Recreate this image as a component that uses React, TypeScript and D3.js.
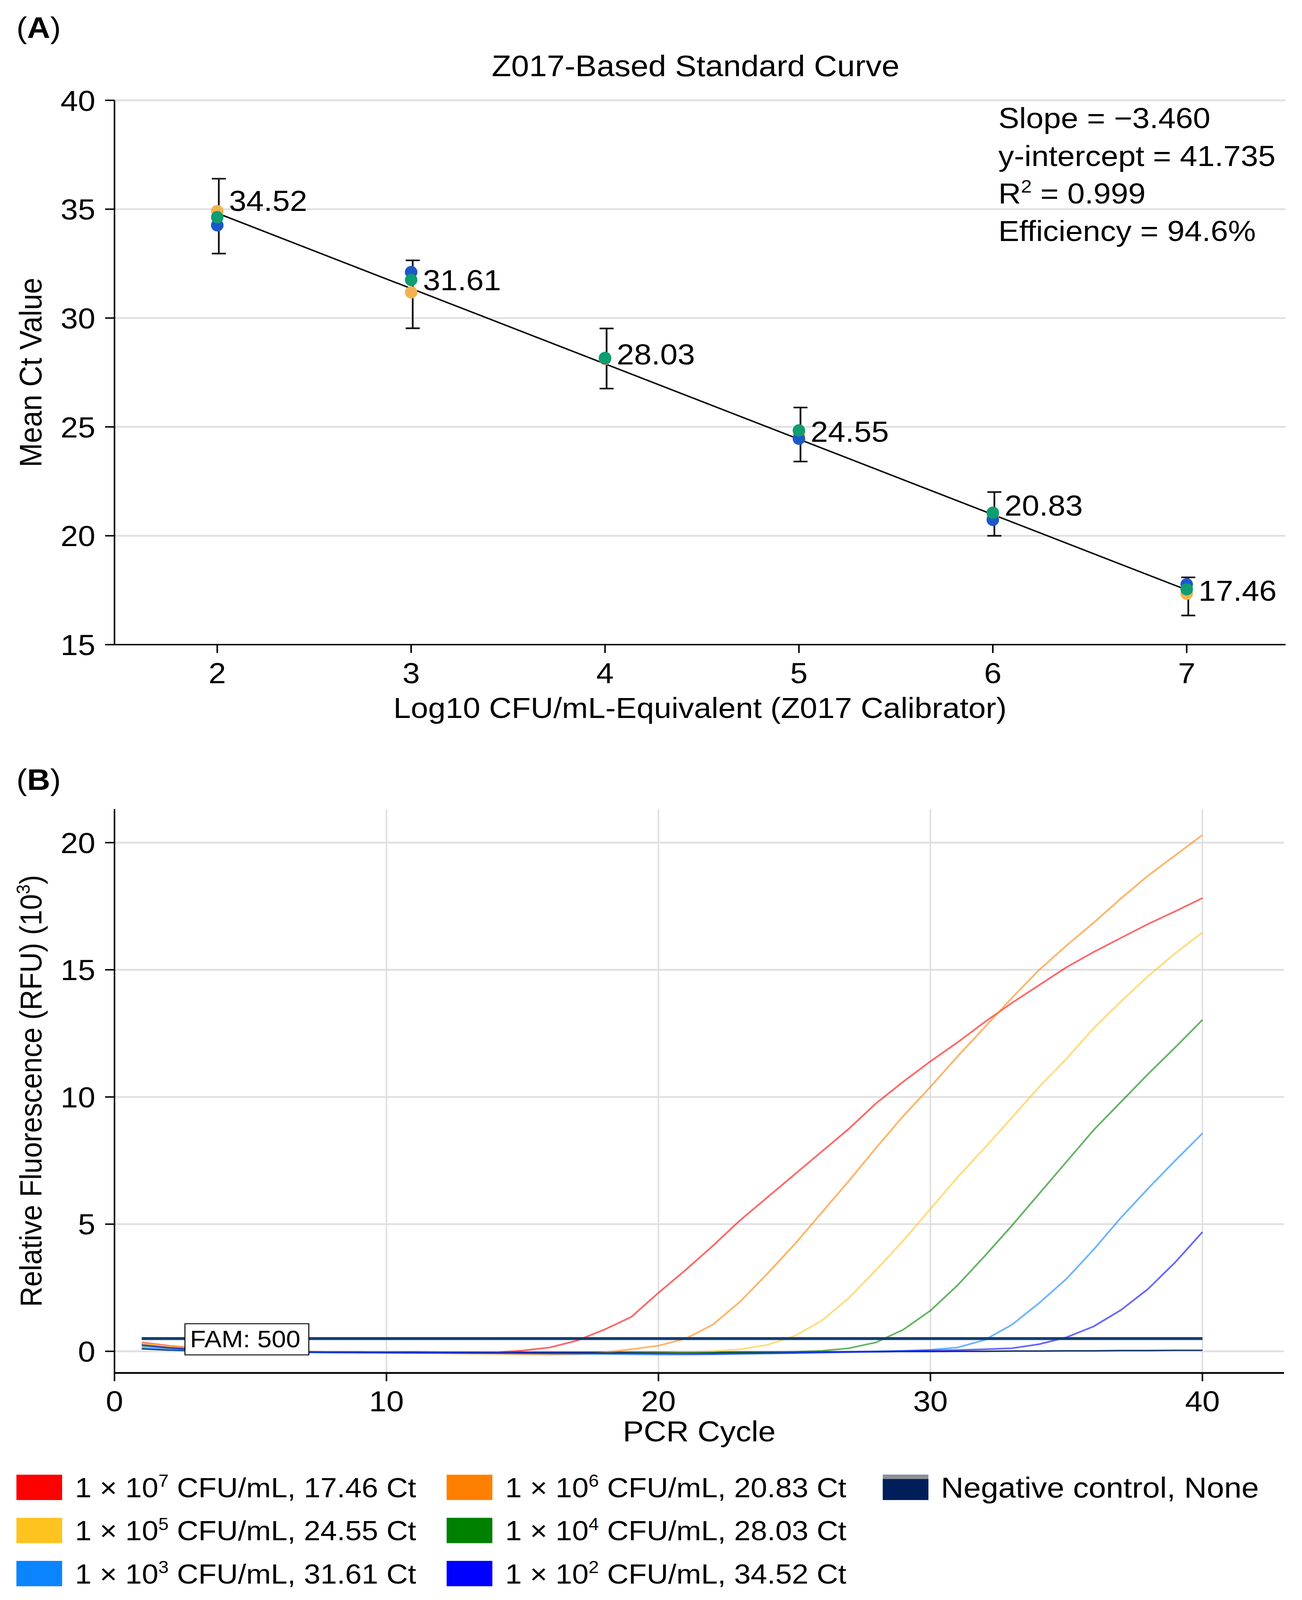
import React, { useEffect } from 'react';
import * as d3 from 'd3';

const FONT = '"Liberation Sans", Arial, Helvetica, sans-serif';

// ---- Panel A: standard curve ----
const LOG_CFU = [2, 3, 4, 5, 6, 7];
const MEAN_CT = [34.52, 31.61, 28.03, 24.55, 20.83, 17.46];
const REP_ORANGE = [34.91, 31.18, 28.12, 24.65, 20.86, 17.34];
const REP_BLUE = [34.26, 32.11, 28.15, 24.46, 20.73, 17.77];
const REP_GREEN = [34.63, 31.75, 28.17, 24.84, 21.06, 17.54];
const ERR_HIGH = [36.4, 32.65, 29.52, 25.89, 22.01, 18.09];
const ERR_LOW = [32.96, 29.53, 26.76, 23.41, 20.0, 16.34];
// manual label nudges (Ct units) as placed in the original figure
const LABEL_NUDGE = [0.88, 0.14, 0.32, 0.25, 0.58, 0.04];
const SLOPE = -3.46;
const INTERCEPT = 41.735;
const A_X_TICKS = [2, 3, 4, 5, 6, 7];
const A_Y_TICKS = [15, 20, 25, 30, 35, 40];

// ---- Panel B: amplification curves (RFU x 10^3, cycles 1..40) ----
const CYCLES = d3.range(1, 41);
const RFU_E7 = [0.35, 0.22, 0.12, 0.06, 0.02, 0.0, -0.02, -0.03, -0.04, -0.05, -0.05, -0.06, -0.06, -0.05, 0.03, 0.15, 0.42, 0.85, 1.35, 2.3, 3.2, 4.15, 5.15, 6.05, 6.95, 7.85, 8.75, 9.75, 10.6, 11.4, 12.15, 12.95, 13.7, 14.4, 15.1, 15.7, 16.25, 16.8, 17.3, 17.82];
const RFU_E6 = [0.28, 0.16, 0.08, 0.03, 0.0, -0.02, -0.04, -0.05, -0.06, -0.06, -0.07, -0.08, -0.09, -0.1, -0.12, -0.13, -0.12, -0.05, 0.08, 0.22, 0.5, 1.05, 1.95, 3.05, 4.2, 5.45, 6.7, 8.0, 9.25, 10.4, 11.6, 12.75, 13.9, 15.0, 15.95, 16.85, 17.8, 18.7, 19.5, 20.3];
const RFU_E5 = [0.32, 0.2, 0.1, 0.04, 0.0, -0.02, -0.03, -0.04, -0.05, -0.05, -0.06, -0.06, -0.07, -0.07, -0.08, -0.08, -0.08, -0.08, -0.07, -0.06, -0.04, 0.0, 0.08, 0.25, 0.6, 1.2, 2.1, 3.2, 4.35, 5.6, 6.85, 8.0, 9.2, 10.4, 11.5, 12.7, 13.75, 14.75, 15.65, 16.47];
const RFU_E4 = [0.22, 0.13, 0.06, 0.02, 0.0, -0.02, -0.03, -0.04, -0.05, -0.05, -0.06, -0.06, -0.06, -0.07, -0.07, -0.07, -0.07, -0.07, -0.07, -0.07, -0.06, -0.06, -0.05, -0.04, -0.02, 0.02, 0.12, 0.35, 0.85, 1.6, 2.6, 3.75, 4.95, 6.2, 7.45, 8.7, 9.8, 10.9, 11.95, 13.03];
const RFU_E3 = [0.15, 0.08, 0.03, 0.0, -0.02, -0.03, -0.04, -0.05, -0.05, -0.06, -0.06, -0.06, -0.07, -0.07, -0.08, -0.09, -0.1, -0.11, -0.12, -0.13, -0.13, -0.12, -0.1, -0.08, -0.06, -0.04, -0.02, 0.0, 0.02, 0.06, 0.15, 0.45, 1.05, 1.9, 2.85, 4.0, 5.25, 6.4, 7.5, 8.57];
const RFU_E2 = [0.25, 0.14, 0.07, 0.03, 0.0, -0.02, -0.03, -0.04, -0.04, -0.05, -0.05, -0.05, -0.06, -0.06, -0.06, -0.07, -0.07, -0.08, -0.08, -0.09, -0.1, -0.1, -0.09, -0.08, -0.07, -0.05, -0.03, -0.01, 0.01, 0.03, 0.05, 0.08, 0.12, 0.28, 0.55, 0.98, 1.62, 2.45, 3.5, 4.69];
const RFU_NEG = [0.1, 0.05, 0.02, 0.0, -0.01, -0.02, -0.02, -0.03, -0.03, -0.03, -0.03, -0.04, -0.04, -0.04, -0.04, -0.04, -0.04, -0.04, -0.04, -0.04, -0.04, -0.04, -0.03, -0.03, -0.03, -0.02, -0.02, -0.02, -0.01, -0.01, 0.0, 0.0, 0.01, 0.01, 0.02, 0.02, 0.03, 0.03, 0.04, 0.04];
const THRESHOLD = 0.5;
const B_X_TICKS = [0, 10, 20, 30, 40];
const B_Y_TICKS = [0, 5, 10, 15, 20];

const SERIES_EXP = ['7', '6', '5', '4', '3', '2'];
const SERIES_CT = ['17.46', '20.83', '24.55', '28.03', '31.61', '34.52'];
const SERIES_COLORS = ['#ff0000', '#ff8000', '#ffc31f', '#008000', '#0a84ff', '#0000ff'];
const SERIES_RFU = [RFU_E7, RFU_E6, RFU_E5, RFU_E4, RFU_E3, RFU_E2];
const NEG_COLOR = '#001e5a';

const GRID = '#e0e0e0';
const W = 3332;
const H = 4418;

export default function App() {
  useEffect(() => {
    document.body.style.margin = '0';
    document.documentElement.style.overflow = 'hidden';
  }, []);

  // scales (in the 3332 x 4418 design space)
  const xA = d3.scaleLinear().domain([1.47, 7.51]).range([293, 3290]);
  const yA = d3.scaleLinear().domain([15, 40]).range([1780, 277]);
  const xB = d3.scaleLinear().domain([0, 43]).range([293, 3286]);
  const yB = d3.scaleLinear().domain([-0.85, 21.32]).range([3791, 2234]);

  const fitLine = d3.line<number>()
    .x(d => xA(d))
    .y(d => yA(INTERCEPT + SLOPE * d));

  const curve = d3.line<number>()
    .x((_, i) => xB(CYCLES[i]))
    .y(d => yB(d))
    .curve(d3.curveLinear);

  const reps: [number[], string][] = [
    [REP_ORANGE, '#f3b24f'],
    [REP_BLUE, '#1c58c9'],
    [REP_GREEN, '#0f9d72'],
  ];

  const sup = (base: string, exp: string, after: string, size: number) => (
    <>
      {base}
      <tspan dy={-size * 0.38} fontSize={size * 0.62}>{exp}</tspan>
      <tspan dy={size * 0.38}>{after}</tspan>
    </>
  );

  const legendCols = [42, 1143, 2259];
  const legendRows = [4107, 4226, 4345];

  return (
    <svg
      viewBox={`0 0 ${W} ${H}`}
      preserveAspectRatio="none"
      style={{ display: 'block', width: '100vw', height: '100vh', background: '#fff' }}
      fontFamily={FONT}
    >
      {/* ================= Panel A ================= */}
      <text x={42} y={105} fontSize={82}>(<tspan fontWeight="bold">A</tspan>)</text>
      <text x={1780} y={210} fontSize={82} textAnchor="middle">Z017-Based Standard Curve</text>

      {A_Y_TICKS.map(t => (
        <g key={'ay' + t}>
          <line x1={293} x2={3290} y1={yA(t)} y2={yA(t)} stroke={GRID} strokeWidth={5} />
          <line x1={269} x2={293} y1={yA(t)} y2={yA(t)} stroke="#000" strokeWidth={4} />
          <text x={244} y={yA(t)} dy="0.36em" fontSize={80} textAnchor="end">{t}</text>
        </g>
      ))}
      {A_X_TICKS.map(t => (
        <g key={'ax' + t}>
          <line x1={xA(t)} x2={xA(t)} y1={1780} y2={1803} stroke="#000" strokeWidth={4} />
          <text x={xA(t)} y={1886} fontSize={80} textAnchor="middle">{t}</text>
        </g>
      ))}
      <line x1={293} x2={293} y1={yA(40)} y2={1782} stroke="#000" strokeWidth={4} />
      <line x1={291} x2={3290} y1={1780} y2={1780} stroke="#000" strokeWidth={4} />

      <text transform={`translate(106,${(277 + 1780) / 2}) rotate(-90)`} fontSize={80} textAnchor="middle">Mean Ct Value</text>
      <text x={(293 + 3290) / 2} y={1982} fontSize={80} textAnchor="middle">Log10 CFU/mL-Equivalent (Z017 Calibrator)</text>

      {/* regression line */}
      <path d={fitLine([LOG_CFU[0], LOG_CFU[LOG_CFU.length - 1]]) || ''} stroke="#000" strokeWidth={4} fill="none" />

      {/* error bars */}
      {LOG_CFU.map((x, i) => (
        <g key={'eb' + i} stroke="#111" strokeWidth={4.5}>
          <line x1={xA(x) + 4} x2={xA(x) + 4} y1={yA(ERR_HIGH[i])} y2={yA(ERR_LOW[i])} />
          <line x1={xA(x) - 14} x2={xA(x) + 22} y1={yA(ERR_HIGH[i])} y2={yA(ERR_HIGH[i])} />
          <line x1={xA(x) - 14} x2={xA(x) + 22} y1={yA(ERR_LOW[i])} y2={yA(ERR_LOW[i])} />
        </g>
      ))}

      {/* replicate points */}
      {reps.map(([vals, color], k) => (
        <g key={'rep' + k}>
          {vals.map((v, i) => (
            <ellipse key={i} cx={xA(LOG_CFU[i])} cy={yA(v)} rx={16} ry={17} fill={color} />
          ))}
        </g>
      ))}

      {/* mean labels */}
      {LOG_CFU.map((x, i) => (
        <text key={'lbl' + i} x={xA(x) + 30} y={yA(MEAN_CT[i] + LABEL_NUDGE[i])} dy="0.36em" fontSize={80}>
          {MEAN_CT[i].toFixed(2)}
        </text>
      ))}

      {/* fit statistics */}
      <g fontSize={80}>
        <text x={2555} y={354}>Slope = −3.460</text>
        <text x={2555} y={458}>y-intercept = 41.735</text>
        <text x={2555} y={562}>{sup('R', '2', ' = 0.999', 80)}</text>
        <text x={2555} y={666}>Efficiency = 94.6%</text>
      </g>

      {/* ================= Panel B ================= */}
      <text x={42} y={2181} fontSize={82}>(<tspan fontWeight="bold">B</tspan>)</text>

      {B_Y_TICKS.map(t => (
        <g key={'by' + t}>
          <line x1={293} x2={3286} y1={yB(t)} y2={yB(t)} stroke={GRID} strokeWidth={5} />
          <line x1={269} x2={293} y1={yB(t)} y2={yB(t)} stroke="#000" strokeWidth={4} />
          <text x={244} y={yB(t)} dy="0.36em" fontSize={80} textAnchor="end">{t}</text>
        </g>
      ))}
      {B_X_TICKS.map(t => (
        <g key={'bx' + t}>
          {t > 0 && <line x1={xB(t)} x2={xB(t)} y1={2234} y2={3791} stroke={GRID} strokeWidth={4} />}
          <line x1={xB(t)} x2={xB(t)} y1={3791} y2={3814} stroke="#000" strokeWidth={4} />
          <text x={xB(t)} y={3897} fontSize={80} textAnchor="middle">{t}</text>
        </g>
      ))}
      <line x1={293} x2={293} y1={2234} y2={3793} stroke="#000" strokeWidth={4} />
      <line x1={291} x2={3286} y1={3791} y2={3791} stroke="#000" strokeWidth={5} />

      <text transform={`translate(106,${(2234 + 3791) / 2}) rotate(-90)`} fontSize={78} textAnchor="middle">
        Relative Fluorescence (RFU) ({sup('10', '3', ')', 78)}
      </text>
      <text x={(293 + 3286) / 2} y={3980} fontSize={80} textAnchor="middle">PCR Cycle</text>

      {/* amplification curves */}
      <path d={curve(RFU_NEG) || ''} stroke={NEG_COLOR} strokeWidth={4} fill="none" opacity={0.9} />
      {SERIES_RFU.map((vals, i) => (
        <path key={'c' + i} d={curve(vals) || ''} stroke={SERIES_COLORS[i]} strokeWidth={4.5} fill="none" opacity={0.6} />
      ))}

      {/* threshold */}
      <line x1={xB(1)} x2={xB(40)} y1={yB(THRESHOLD)} y2={yB(THRESHOLD)} stroke="#123f70" strokeWidth={8} />
      <rect x={xB(2.59)} y={yB(THRESHOLD) - 41} width={317} height={86} fill="#fff" stroke="#000" strokeWidth={2.5} />
      <text x={xB(2.59) + 13} y={yB(THRESHOLD)} dy="0.36em" fontSize={66}>FAM: 500</text>

      {/* legend */}
      {SERIES_EXP.map((e, i) => {
        const x = legendCols[i % 2];
        const y = legendRows[Math.floor(i / 2)];
        return (
          <g key={'lg' + i}>
            <rect x={x} y={y - 35} width={117} height={70} fill={SERIES_COLORS[i]} />
            <text x={x + 150} y={y} dy="0.36em" fontSize={76}>
              {sup('1 × 10', e, ` CFU/mL, ${SERIES_CT[i]} Ct`, 76)}
            </text>
          </g>
        );
      })}
      <g>
        <rect x={legendCols[2]} y={legendRows[0] - 35} width={117} height={70} fill={NEG_COLOR} />
        <rect x={legendCols[2]} y={legendRows[0] - 35} width={117} height={12} fill="#8c9199" />
        <text x={legendCols[2] + 149} y={legendRows[0]} dy="0.36em" fontSize={80}>Negative control, None</text>
      </g>
    </svg>
  );
}
